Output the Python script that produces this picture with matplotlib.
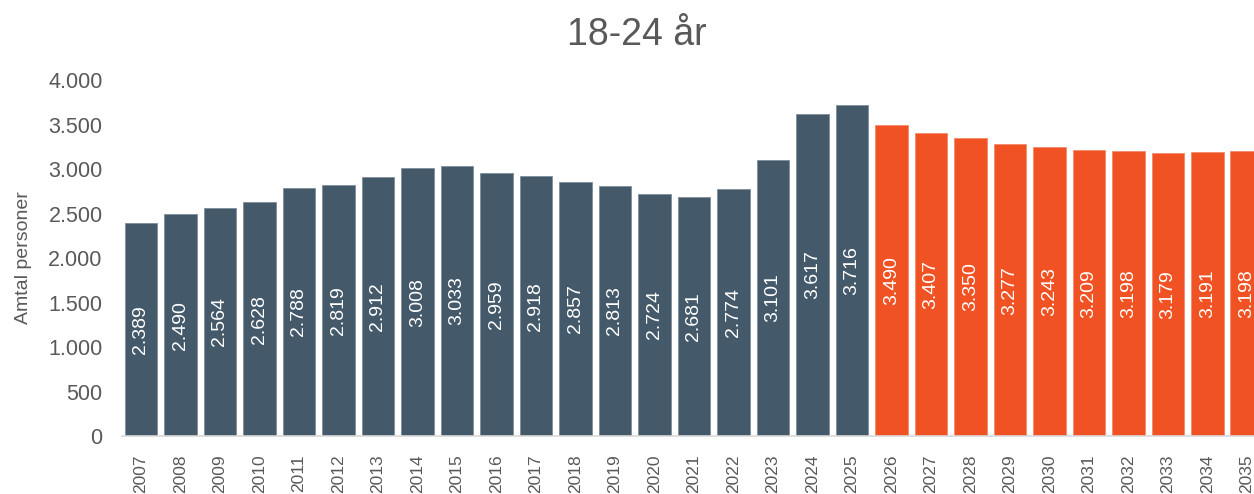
import matplotlib.pyplot as plt

plt.rcParams['font.family'] = ['Liberation Sans', 'DejaVu Sans']

years = [str(y) for y in range(2007, 2036)]
values = [2389, 2490, 2564, 2628, 2788, 2819, 2912, 3008, 3033, 2959,
          2918, 2857, 2813, 2724, 2681, 2774, 3101, 3617, 3716,
          3490, 3407, 3350, 3277, 3243, 3209, 3198, 3179, 3191, 3198]
n_actual = 19  # 2007-2025 observed, rest is forecast

dark = '#44596A'
orange = '#F05223'
grey = '#595959'


def fmt(v):
    return f"{v:,}".replace(",", ".")


fig = plt.figure(figsize=(12.54, 4.94), dpi=100)
ax = fig.add_axes([0.0973, 0.1174, 0.9027, 0.7206])

x = list(range(len(years)))
colors = [dark] * n_actual + [orange] * (len(years) - n_actual)
edges = ['#7E8E9A'] * n_actual + ['#F58A6A'] * (len(years) - n_actual)
ax.bar(x, values, width=0.83, color=colors, edgecolor=edges, linewidth=0.6)

for xi, v in zip(x, values):
    ax.text(xi, v / 2, fmt(v), rotation=90, ha='center', va='center',
            color='white', fontsize=14)

ax.set_xlim(-0.48, 28.18)
ax.set_ylim(0, 4000)
ax.set_yticks(range(0, 4001, 500))
ax.set_yticklabels([fmt(t) for t in range(0, 4001, 500)])
ax.set_xticks(x)
ax.set_xticklabels(years, rotation=90)
ax.tick_params(axis='both', length=0, labelcolor=grey)
ax.tick_params(axis='y', labelsize=15.5, pad=14)
ax.tick_params(axis='x', labelsize=12.5, pad=13)

for s in ['top', 'right', 'left']:
    ax.spines[s].set_visible(False)
ax.spines['bottom'].set_color('#D9D9D9')
ax.spines['bottom'].set_linewidth(1.2)

ax.set_ylabel('Amtal personer', fontsize=14, color=grey, labelpad=12)

fig.text(0.508, 0.93, '18-24 år', ha='center', va='center', fontsize=27, color=grey)

fig.savefig('out.png', dpi=100)
